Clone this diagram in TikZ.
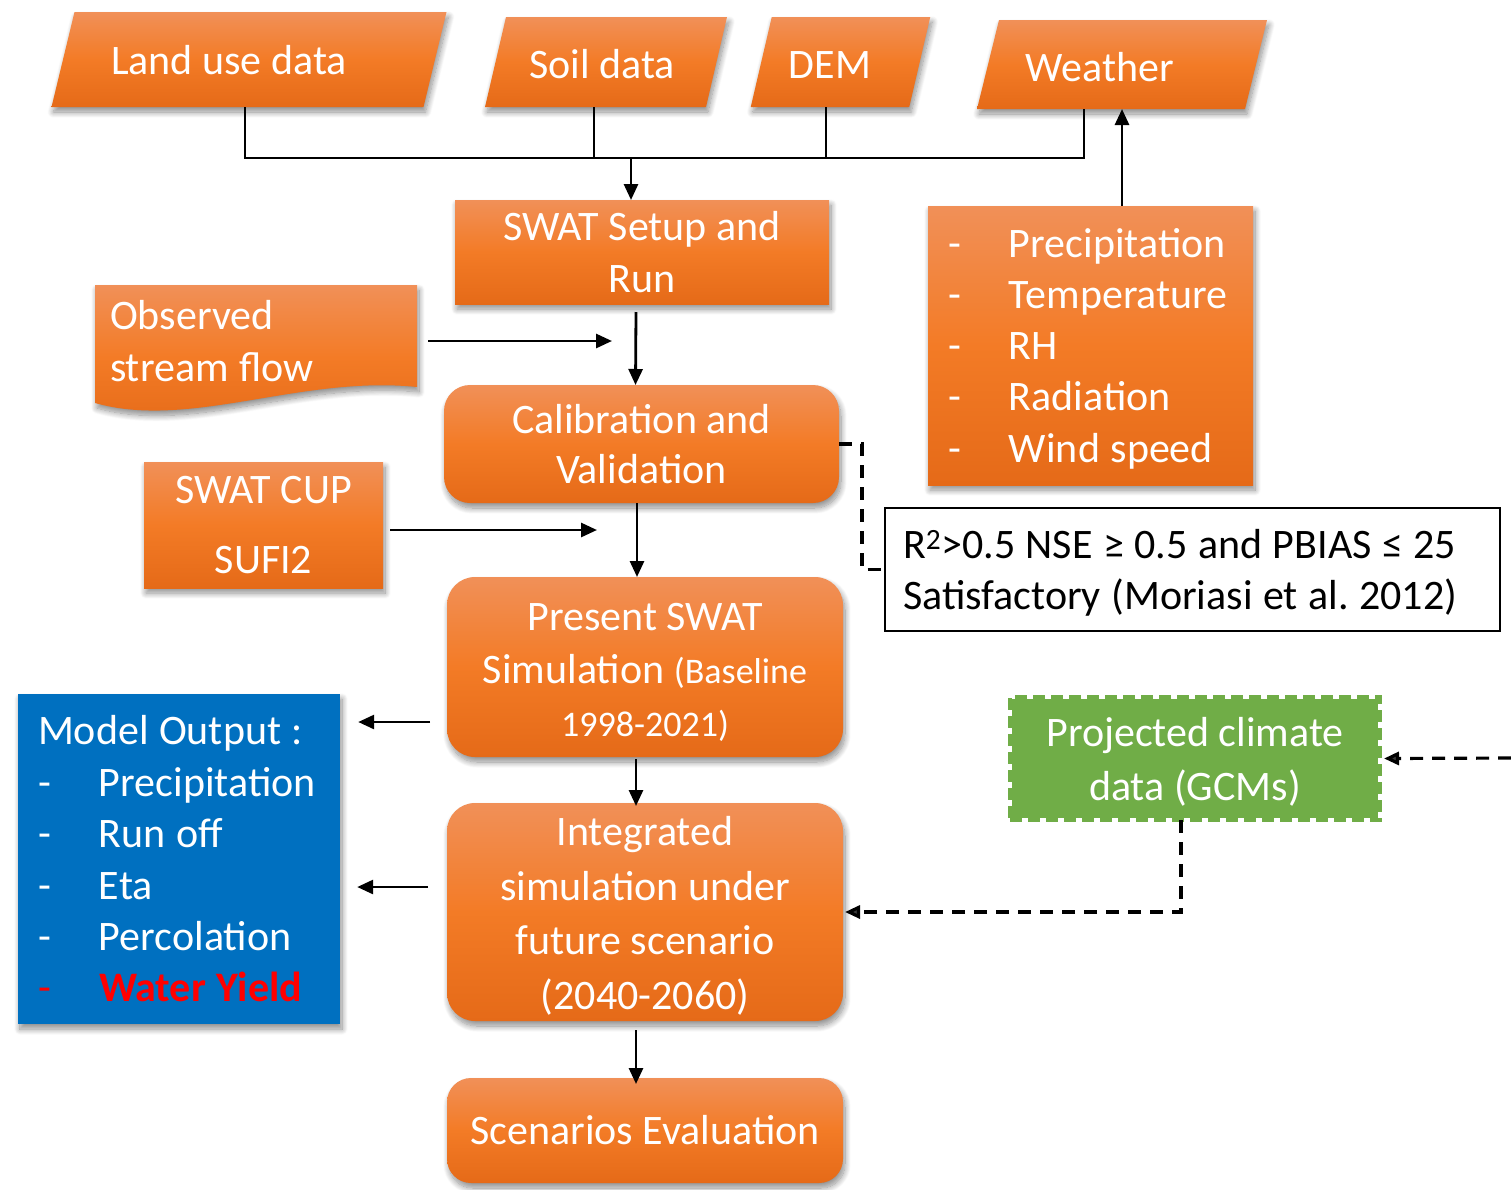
\documentclass[tikz,border=0pt]{standalone}
\usepackage{fontspec}
\setmainfont{Carlito}
\usetikzlibrary{shadows,shadows.blur,arrows.meta,calc}
\definecolor{orT}{HTML}{F19058}
\definecolor{orM}{HTML}{F37B26}
\definecolor{orB}{HTML}{E56A18}
\definecolor{blueBox}{HTML}{0070C0}
\definecolor{greenBox}{HTML}{70AD47}
\tikzset{
 orfill/.style={top color=orT, bottom color=orB, middle color=orM},
 shad/.style={blur shadow={shadow xshift=2pt, shadow yshift=-5pt, shadow blur radius=6pt, shadow blur steps=12, shadow opacity=45}},
 txt42/.style={text=white, font=\fontsize{42}{52}\selectfont},
 databox/.style={rectangle, inner sep=0, outer sep=0},
 lbl/.style={txt42, inner sep=0, anchor=base},
 procbox/.style={rectangle, orfill, shad, txt42, inner sep=0, outer sep=0, align=center},
 roundbox/.style={procbox, rounded corners=26pt},
 conn/.style={line width=2.8pt, draw=black},
 arr/.style={conn, -{Triangle[length=16pt,width=14pt]}},
 dashline/.style={line width=3.2pt, dash pattern=on 13pt off 9pt},
 dasharr/.style={dashline, -{Triangle[length=15pt,width=13pt]}}
}
\newcommand{\itm}[1]{\makebox[61pt][l]{-}#1}
\newcommand{\tsp}{\spaceskip=0.25em\xspaceskip=0.25em\relax}
\newcommand{\drawpara}[2]{\path[orfill,shad] ([xshift=#2]#1.north west) -- ([xshift=#2]#1.north east) -- ([xshift=-#2]#1.south east) -- ([xshift=-#2]#1.south west) -- cycle;}
\begin{document}
\begin{tikzpicture}[x=1pt,y=-1pt]
\useasboundingbox (0,0) rectangle (1511,1189);

% data parallelograms
\node[databox, minimum width=372pt, minimum height=95pt] (land) at (249,59.5) {};
\node[databox, minimum width=221pt, minimum height=90pt] (soil) at (606,62) {};
\node[databox, minimum width=158.5pt, minimum height=90pt] (dem) at (840.5,62) {};
\node[databox, minimum width=268pt, minimum height=89pt] (weather) at (1122,64.5) {};
\drawpara{land}{11.5pt}
\drawpara{soil}{10.5pt}
\drawpara{dem}{10.5pt}
\drawpara{weather}{11pt}
\node[lbl] (landtxt) at (229,74) {Land use data};
\node[lbl] (soiltxt) at (602,78) {Soil data};
\node[lbl] (demtxt) at (830,78) {DEM};
\node[lbl] (weathertxt) at (1100,81) {Weather};

% process boxes
\node[procbox, minimum width=374pt, minimum height=104pt] (setup) at (642,252) {SWAT Setup and\\Run};
\node[roundbox, minimum width=395pt, minimum height=118pt, font=\fontsize{42}{50}\selectfont] (calib) at (641.5,444) {Calibration and\\Validation};
\node[procbox, minimum width=239pt, minimum height=126pt, font=\fontsize{42}{70}\selectfont] (cup) at (263.5,525) {SWAT CUP\\SUFI2};
\node[roundbox, rounded corners=28pt, minimum width=396pt, minimum height=180pt, font=\fontsize{42}{53}\selectfont] (present) at (645,667)
 {\rule{0pt}{38pt}Present SWAT\\Simulation {\fontsize{36}{53}\selectfont(Baseline}\\{\fontsize{36}{53}\selectfont 1998-2021)}};
\node[roundbox, rounded corners=28pt, minimum width=396pt, minimum height=218pt, font=\fontsize{42}{54.5}\selectfont] (integ) at (645,912)
 {\rule{0pt}{37pt}Integrated\\simulation under\\future scenario\\(2040-2060)};
\node[roundbox, rounded corners=24pt, minimum width=396pt, minimum height=105pt] (scen) at (645,1130.5) {Scenarios Evaluation};

% weather variables list
\node[rectangle, orfill, shad, text=white, font=\fontsize{42}{51.3}\selectfont, inner sep=0, inner xsep=20pt, text width=285pt, minimum height=279pt, align=left] (wlist) at (1090.5,345.5)
 {\tsp\rule{0pt}{35pt}\itm{Precipitation}\\\itm{Temperature}\\\itm{RH}\\\itm{Radiation}\\\itm{Wind speed}};

% observed stream flow (document shape)
\coordinate (obsC) at (256,341);
\path[orfill, shad] ($(obsC)+(-161,-56)$) -- ($(obsC)+(161,-56)$) -- ($(obsC)+(161,46)$)
  .. controls ($(obsC)+(44,34)$) and ($(obsC)+(-66,89)$) .. ($(obsC)+(-161,62)$) -- cycle;
\node[text=white, font=\fontsize{42}{52}\selectfont, inner sep=0, inner xsep=15pt, text width=292pt, minimum height=112pt, align=left] (obs) at (obsC) {\tsp Observed\\stream flow};

% model output
\node[rectangle, fill=blueBox, shad, text=white, font=\fontsize{42}{51.4}\selectfont, inner sep=0, inner xsep=20pt, text width=282pt, minimum height=330pt, align=left] (model) at (179,859)
 {\tsp Model Output :\\\itm{Precipitation}\\\itm{Run off}\\\itm{Eta}\\\itm{Percolation}\\{\color{red}\itm{\textbf{Water Yield}}}};

% criteria box
\node[rectangle, draw=black, line width=2.5pt, fill=white, text=black, font=\fontsize{42}{51}\selectfont, inner sep=0, inner xsep=18pt, text width=579pt, minimum height=123pt, align=left] (crit) at (1192.5,569.5)
 {\tsp\rule{0pt}{36pt}R\textsuperscript{2}>0.5 NSE ≥ 0.5 and PBIAS ≤ 25\\Satisfactory (Moriasi et al. 2012)};

% projected climate
\node[rectangle, fill=greenBox, draw=white, line width=4pt, text=white, font=\fontsize{42}{54}\selectfont, inner sep=0, minimum width=370pt, minimum height=123pt, align=center,
 postaction={draw=greenBox, line width=4pt, dash pattern=on 12pt off 6pt}] (proj) at (1195,758.5) {\rule{0pt}{36pt}Projected climate\\data (GCMs)};

% connectors: data inputs
\coordinate (lb) at ([xshift=-4pt]land.south);
\coordinate (sb) at ([xshift=-12pt]soil.south);
\coordinate (db) at ([xshift=-14.5pt]dem.south);
\coordinate (wb) at ([xshift=-38pt]weather.south);
\coordinate (junc) at (631,158);
\draw[conn] (lb) |- (junc -| wb) -- (wb);
\draw[conn] (sb) -- (sb |- junc);
\draw[conn] (db) -- (db |- junc);
\draw[arr] (junc) -- (junc |- setup.north);
\draw[arr] (weather.south |- wlist.north) -- (weather.south);

% main chain
\draw[arr] ([xshift=-6pt,yshift=-8pt]setup.south) -- ([xshift=-6pt]calib.north);
\draw[arr] ([xshift=-4.5pt]calib.south) -- ([xshift=-8pt]present.north);
\draw[arr] ([xshift=-9pt,yshift=-2pt]present.south) -- ([xshift=-9pt,yshift=-3pt]integ.north);
\draw[arr] ([xshift=-9pt,yshift=-9pt]integ.south) -- ([xshift=-9pt,yshift=-6pt]scen.north);

% side inputs
\coordinate (obsEnd) at (612,341);
\draw[arr] ([xshift=11pt]obs.east) -- (obsEnd);
\coordinate (cupEnd) at (597,530);
\draw[arr] ([xshift=7pt,yshift=-5pt]cup.east) -- (cupEnd);

% outputs
\coordinate (pm) at ([xshift=-17pt,yshift=-55pt]present.west);
\draw[arr] (pm) -- ($(model.east |- pm)+(18,0)$);
\coordinate (im) at ([xshift=-19pt,yshift=25pt]integ.west);
\draw[arr] (im) -- ($(model.east |- im)+(17,0)$);

% dashed connectors
\draw[dashline] (calib.east) -- ++(23,0) |- (crit.west);
\coordinate (gcmIn) at (1511,758);
\draw[dasharr] (gcmIn) -- ([xshift=2pt]proj.east);
\draw[dasharr] ([xshift=-14pt,yshift=2pt]proj.south) |- ([xshift=2pt]integ.east);
\end{tikzpicture}
\end{document}
